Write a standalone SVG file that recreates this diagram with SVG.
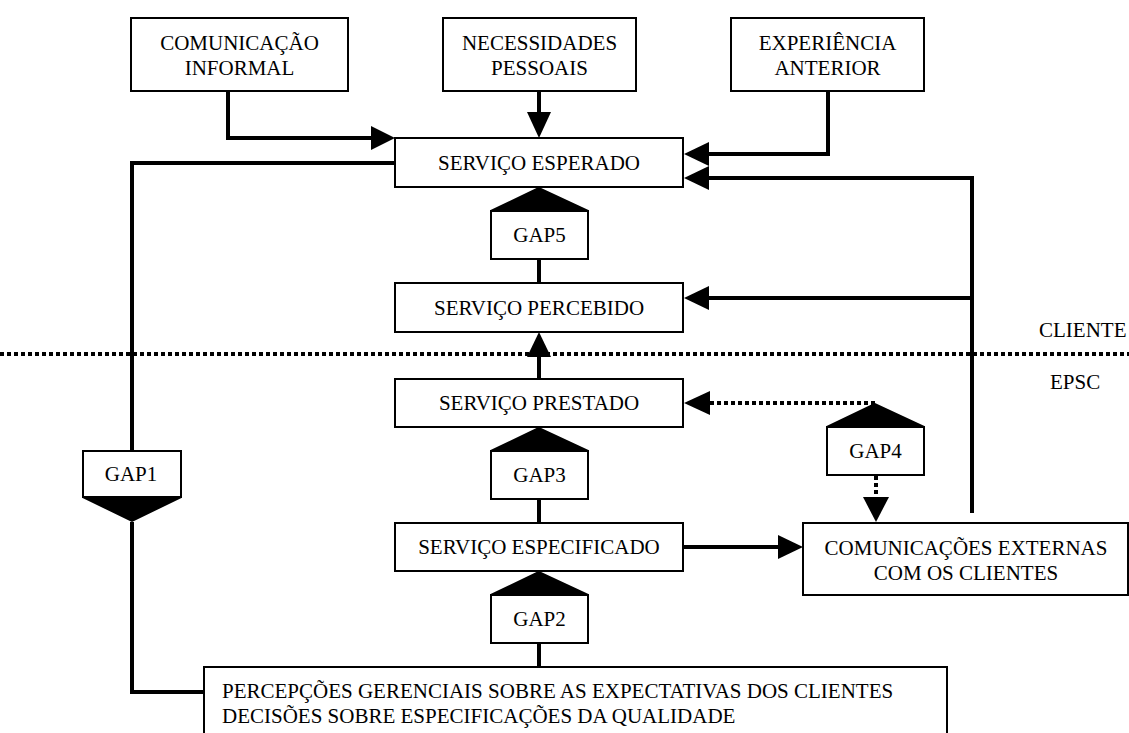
<svg xmlns="http://www.w3.org/2000/svg" width="1129" height="733" viewBox="0 0 1129 733">
  <style>
    .box { fill: #fff; stroke: #000; stroke-width: 2; }
    .lbl { font-family: "Liberation Serif", "Times New Roman", serif; font-size: 21px; fill: #000; }
    .mid { text-anchor: middle; }
    .wire { fill: none; stroke: #000; stroke-width: 4; }
    .dot { fill: none; stroke: #000; stroke-width: 4; stroke-dasharray: 4 3; }
    .head { fill: #000; stroke: none; }
    .wedge { fill: #000; stroke: #000; stroke-width: 2; stroke-linejoin: miter; }
  </style>

  <!-- client / provider boundary -->
  <g id="boundary">
    <line class="dot" x1="0" y1="354" x2="1129" y2="354"/>
    <text class="lbl" x="1039" y="337">CLIENTE</text>
    <text class="lbl" x="1050" y="389">EPSC</text>
  </g>

  <!-- connectors -->
  <g id="connectors">
    <!-- informal communication -> expected service -->
    <path class="wire" d="M228,91 V138 H372"/>
    <polygon class="head" points="395,138 371,126 371,150"/>
    <!-- personal needs -> expected service -->
    <path class="wire" d="M539,91 V114"/>
    <polygon class="head" points="539,138 527,112 551,112"/>
    <!-- past experience -> expected service -->
    <path class="wire" d="M828,91 V154 H707"/>
    <polygon class="head" points="684,154 709,142 709,166"/>
    <!-- external communications -> expected / perceived service -->
    <path class="wire" d="M972,513 V178 H707"/>
    <polygon class="head" points="684,178 709,166 709,190"/>
    <path class="wire" d="M972,298 H707"/>
    <polygon class="head" points="684,298 709,286 709,310"/>
    <!-- expected service -> GAP1 -> management perceptions -->
    <path class="wire" d="M395,163 H132 V451"/>
    <path class="wire" d="M132,522 V692 H204"/>
    <!-- vertical chain -->
    <line class="wire" x1="539" y1="259" x2="539" y2="283"/>
    <line class="wire" x1="539" y1="379" x2="539" y2="354"/>
    <polygon class="head" points="539,332 527,357 551,357"/>
    <line class="wire" x1="539" y1="499" x2="539" y2="523"/>
    <line class="wire" x1="539" y1="643" x2="539" y2="667"/>
    <!-- specified service -> external communications -->
    <path class="wire" d="M683,547 H780"/>
    <polygon class="head" points="803,547 778,535 778,559"/>
    <!-- GAP4 dotted links -->
    <path class="dot" d="M875,403 H708"/>
    <polygon class="head" points="684,403 710,391 710,415"/>
    <path class="dot" d="M876,476 V498"/>
    <polygon class="head" points="876,522 863,497 889,497"/>
  </g>

  <!-- input boxes -->
  <g id="informal-communication">
    <rect class="box" x="131" y="18" width="217" height="73"/>
    <text class="lbl mid" x="239.5" y="50">COMUNICAÇÃO</text>
    <text class="lbl mid" x="239.5" y="75">INFORMAL</text>
  </g>
  <g id="personal-needs">
    <rect class="box" x="443" y="18" width="193" height="73"/>
    <text class="lbl mid" x="539.5" y="50">NECESSIDADES</text>
    <text class="lbl mid" x="539.5" y="75">PESSOAIS</text>
  </g>
  <g id="past-experience">
    <rect class="box" x="731" y="18" width="193" height="73"/>
    <text class="lbl mid" x="827.5" y="50">EXPERIÊNCIA</text>
    <text class="lbl mid" x="827.5" y="75">ANTERIOR</text>
  </g>

  <!-- service stages -->
  <g id="expected-service">
    <rect class="box" x="395" y="138" width="288" height="49"/>
    <text class="lbl mid" x="539" y="170">SERVIÇO ESPERADO</text>
  </g>
  <g id="perceived-service">
    <rect class="box" x="395" y="283" width="288" height="49"/>
    <text class="lbl mid" x="539" y="315">SERVIÇO PERCEBIDO</text>
  </g>
  <g id="delivered-service">
    <rect class="box" x="395" y="379" width="288" height="48"/>
    <text class="lbl mid" x="539" y="410">SERVIÇO PRESTADO</text>
  </g>
  <g id="specified-service">
    <rect class="box" x="395" y="523" width="288" height="48"/>
    <text class="lbl mid" x="539" y="554">SERVIÇO ESPECIFICADO</text>
  </g>
  <g id="external-communications">
    <rect class="box" x="803" y="523" width="325" height="72"/>
    <text class="lbl mid" x="966" y="555">COMUNICAÇÕES EXTERNAS</text>
    <text class="lbl mid" x="966" y="580">COM OS CLIENTES</text>
  </g>
  <g id="management-perceptions">
    <rect class="box" x="204" y="667" width="743" height="80"/>
    <text class="lbl" x="222" y="698">PERCEPÇÕES GERENCIAIS SOBRE AS EXPECTATIVAS DOS CLIENTES</text>
    <text class="lbl" x="222" y="723">DECISÕES SOBRE ESPECIFICAÇÕES DA QUALIDADE</text>
  </g>

  <!-- gap markers -->
  <g id="gap5">
    <polygon class="wedge" points="539,188 491,211 588,211"/>
    <rect class="box" x="491" y="211" width="97" height="48"/>
    <text class="lbl mid" x="539.5" y="242">GAP5</text>
  </g>
  <g id="gap3">
    <polygon class="wedge" points="539,428 491,451 588,451"/>
    <rect class="box" x="491" y="451" width="97" height="48"/>
    <text class="lbl mid" x="539.5" y="482">GAP3</text>
  </g>
  <g id="gap2">
    <polygon class="wedge" points="539,572 491,595 588,595"/>
    <rect class="box" x="491" y="595" width="97" height="48"/>
    <text class="lbl mid" x="539.5" y="626">GAP2</text>
  </g>
  <g id="gap4">
    <polygon class="wedge" points="875,404 827,427 924,427"/>
    <rect class="box" x="827" y="427" width="97" height="48"/>
    <text class="lbl mid" x="875.5" y="458">GAP4</text>
  </g>
  <g id="gap1">
    <rect class="box" x="83" y="451" width="98" height="46"/>
    <polygon class="wedge" points="83,497 181,497 132,521"/>
    <text class="lbl mid" x="131" y="481">GAP1</text>
  </g>
</svg>
